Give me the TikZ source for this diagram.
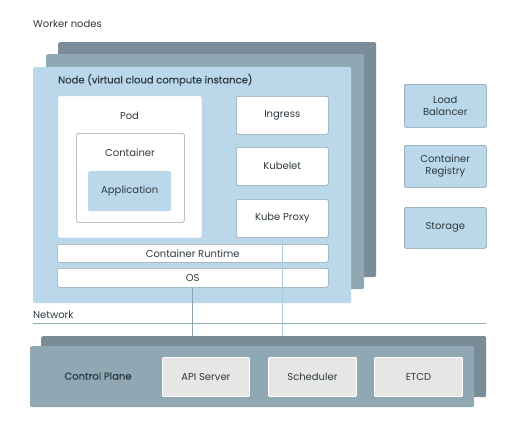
\documentclass[tikz,border=0pt]{standalone}
\usepackage{fontspec}
\setmainfont{Poppins}
\newfontfamily\medfont{Poppins}[FakeBold=0.6]
\definecolor{frontblue}{HTML}{BAD8EA}
\definecolor{midgray}{HTML}{8FA8B4}
\definecolor{backgray}{HTML}{7A8C97}
\definecolor{boxline}{HTML}{8FA3AF}
\definecolor{lbline}{HTML}{7F9AAB}
\definecolor{txt}{HTML}{2F3A40}
\definecolor{gfill}{HTML}{E6E6E6}
\definecolor{kpline}{HTML}{A9CCE0}
\begin{document}
\begin{tikzpicture}[x=1pt,y=-1pt,
  every node/.style={text=txt, font=\fontsize{10}{12}\selectfont, inner sep=0pt},
  card/.style={anchor=north west, rounded corners=1.5pt, draw=none},
  wbox/.style={anchor=north west, draw=boxline, fill=white, rounded corners=1.5pt, line width=0.5pt, align=center},
  sidebox/.style={anchor=north west, draw=lbline, fill=frontblue, rounded corners=1.5pt, line width=0.6pt, align=center},
  gbox/.style={anchor=north west, draw=white, fill=gfill, rounded corners=1pt, line width=0.9pt, align=center},
  lbl/.style={anchor=west}]
\useasboundingbox[fill=white] (0,0) rectangle (512,431);

\node[lbl] (worker) at (33,24) {Worker nodes};

% worker cards
\node[card, fill=backgray, minimum width=318pt, minimum height=235pt] (wback) at (58,42) {};
\node[card, fill=midgray, minimum width=318pt, minimum height=235pt] (wmid) at (46,54) {};
\node[card, fill=frontblue, minimum width=318pt, minimum height=236pt] (wfront) at (33,67) {};
\node[lbl, font=\fontsize{10}{12}\medfont] (title) at (58,80) {Node (virtual cloud compute instance)};

\node[wbox, draw=white, minimum width=143pt, minimum height=141pt] (pod) at (58,96) {};
\node (podl) at (129.5,116) {Pod};
\node[wbox, minimum width=108pt, minimum height=89pt] (cont) at (76,133) {};
\node (contl) at (130,153) {Container};
\node[card, fill=frontblue, minimum width=83pt, minimum height=40pt] (app) at (88,171) {Application};

\node[wbox, minimum width=92pt, minimum height=38pt] (ingress) at (236,96) {Ingress};
\node[wbox, minimum width=92pt, minimum height=38pt] (kubelet) at (236,147) {Kubelet};
\node[wbox, minimum width=92pt, minimum height=38pt] (kproxy) at (236,199) {Kube Proxy};
\node[wbox, minimum width=271pt, minimum height=18pt] (runtime) at (57,244) {Container Runtime};
\node[wbox, minimum width=271pt, minimum height=19pt] (os) at (57,268) {OS};

% side boxes
\node[sidebox, minimum width=82pt, minimum height=43pt] (lb) at (404,84) {Load\\Balancer};
\node[sidebox, minimum width=82pt, minimum height=42pt] (reg) at (404,145) {Container\\Registry};
\node[sidebox, minimum width=82pt, minimum height=41pt] (stor) at (404,207) {Storage};

% network
\node[lbl] (net) at (33,315) {Network};
\coordinate (n1) at (33,323);
\coordinate (n2) at (486,323);
\draw[midgray, line width=0.7pt] (n1) -- (n2);

% control plane
\node[card, fill=backgray, minimum width=445pt, minimum height=61pt] (cpback) at (41,336) {};
\node[card, fill=midgray, minimum width=444pt, minimum height=61pt] (cpfront) at (30,346) {};
\node[font=\fontsize{10}{12}\medfont] (cpl) at (98,376) {Control Plane};
\node[gbox, minimum width=87pt, minimum height=39pt] (api) at (162,357) {API Server};
\node[gbox, minimum width=88pt, minimum height=39pt] (sched) at (268,357) {Scheduler};
\node[gbox, minimum width=88pt, minimum height=39pt] (etcd) at (374,357) {ETCD};

% connectors
\draw[boxline, line width=0.7pt] (os.south) -- (os.south |- cpback.north);
\draw[kpline, line width=0.7pt] (kproxy.south) -- (kproxy.south |- cpback.north);
\end{tikzpicture}
\end{document}
